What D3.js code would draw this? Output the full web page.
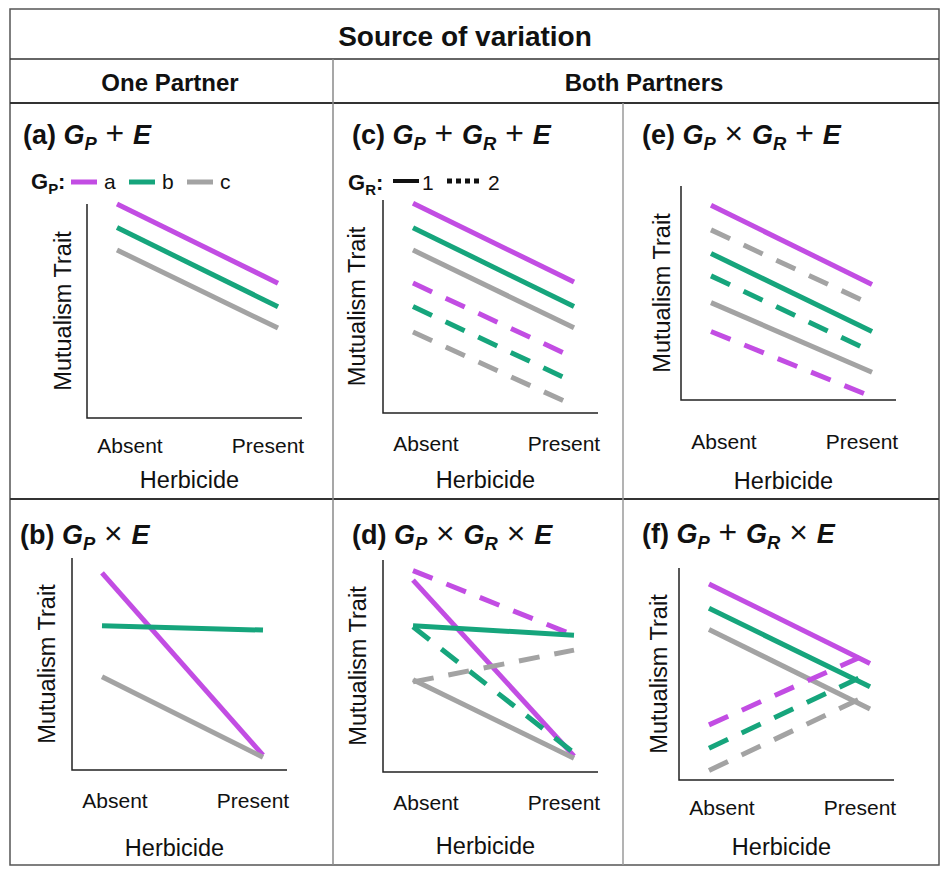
<!DOCTYPE html>
<html>
<head>
<meta charset="utf-8">
<script src="https://cdn.jsdelivr.net/npm/d3@7"></script>
<style>
  body { margin: 0; background: #fff; }
  svg text { font-family: "Liberation Sans", Arial, sans-serif; fill: #111; }
</style>
</head>
<body>
<svg id="chart" width="942" height="869"></svg>
<script>
// categories
var herbicide = ['Absent', 'Present'];
var genotypesP = ['a', 'b', 'c'];
var genotypesR = ['1', '2'];

// mutualism trait on a 0-10 scale: [absent, present]
var panelA = [
    {gp: 'a', gr: '1', v: [10.0, 6.3]},
    {gp: 'b', gr: '1', v: [8.9, 5.2]},
    {gp: 'c', gr: '1', v: [7.85, 4.2]}
];
var panelB = [
    {gp: 'a', gr: '1', v: [9.3, 0.7]},
    {gp: 'b', gr: '1', v: [6.8, 6.6]},
    {gp: 'c', gr: '1', v: [4.4, 0.6]}
];
var panelC = [
    {gp: 'a', gr: '1', v: [9.85, 6.15]},
    {gp: 'b', gr: '1', v: [8.7, 5.0]},
    {gp: 'c', gr: '1', v: [7.65, 4.0]},
    {gp: 'a', gr: '2', v: [6.1, 2.6]},
    {gp: 'b', gr: '2', v: [5.0, 1.45]},
    {gp: 'c', gr: '2', v: [3.8, 0.35]}
];
var panelD = [
    {gp: 'a', gr: '2', v: [9.5, 6.45]},
    {gp: 'a', gr: '1', v: [9.05, 0.75]},
    {gp: 'b', gr: '1', v: [6.9, 6.45]},
    {gp: 'b', gr: '2', v: [6.85, 0.9]},
    {gp: 'c', gr: '2', v: [4.25, 5.75]},
    {gp: 'c', gr: '1', v: [4.35, 0.65]}
];
var panelE = [
    {gp: 'a', gr: '1', v: [9.1, 5.4]},
    {gp: 'c', gr: '2', v: [7.95, 4.45]},
    {gp: 'b', gr: '1', v: [6.85, 3.2]},
    {gp: 'b', gr: '2', v: [5.8, 2.25]},
    {gp: 'c', gr: '1', v: [4.55, 1.3]},
    {gp: 'a', gr: '2', v: [3.2, 0.15]}
];
var panelF = [
    {gp: 'a', gr: '1', v: [9.25, 5.5]},
    {gp: 'b', gr: '1', v: [8.1, 4.4]},
    {gp: 'c', gr: '1', v: [7.1, 3.35]},
    {gp: 'a', gr: '2', v: [2.6, 6.0]},
    {gp: 'b', gr: '2', v: [1.5, 5.05]},
    {gp: 'c', gr: '2', v: [0.45, 4.05]}
];

var colorP = d3.scaleOrdinal().domain(genotypesP).range(['#C24DE3', '#16A57C', '#A3A3A3']);
var dashR = d3.scaleOrdinal().domain(genotypesR).range([null, '21,15']);

var svg = d3.select('#chart');

// rich text: B bold, I italic, S subscript, O operator, N plain
function richText(sel, parts, size) {
    var shift = 0;
    parts.forEach(function(p) {
        var ts = sel.append('tspan').text(p[0]);
        if (p[1].indexOf('B') >= 0) ts.attr('font-weight', 'bold');
        if (p[1].indexOf('I') >= 0) ts.attr('font-style', 'italic');
        if (p[1].indexOf('O') >= 0) ts.attr('font-size', size * 1.18);
        if (p[1].indexOf('S') >= 0) {
            ts.attr('font-size', size * 0.68).attr('dy', size * 0.22 - shift);
            shift = size * 0.22;
        } else if (shift) {
            ts.attr('dy', -shift);
            shift = 0;
        }
    });
}

// table grid
var grid = svg.append('g');
grid.append('rect').attr('x', 10).attr('y', 9).attr('width', 929).attr('height', 856)
    .attr('fill', 'none').attr('stroke', '#555').attr('stroke-width', 1.5);
[59, 103, 499].forEach(function(y) {
    grid.append('line').attr('x1', 10).attr('x2', 939).attr('y1', y).attr('y2', y)
        .attr('stroke', '#333').attr('stroke-width', y === 59 ? 1.5 : 2);
});
grid.append('line').attr('x1', 333).attr('x2', 333).attr('y1', 59).attr('y2', 865)
    .attr('stroke', '#8a8a8a').attr('stroke-width', 1.5);
grid.append('line').attr('x1', 623).attr('x2', 623).attr('y1', 103).attr('y2', 865)
    .attr('stroke', '#9a9a9a').attr('stroke-width', 1.5);

svg.append('text').attr('x', 465).attr('y', 46).attr('text-anchor', 'middle')
    .attr('font-size', 28).attr('font-weight', 'bold').text('Source of variation');
svg.append('text').attr('x', 170).attr('y', 91).attr('text-anchor', 'middle')
    .attr('font-size', 24).attr('font-weight', 'bold').text('One Partner');
svg.append('text').attr('x', 644).attr('y', 91).attr('text-anchor', 'middle')
    .attr('font-size', 24).attr('font-weight', 'bold').text('Both Partners');

var panels = [
    {data: panelA, ox: 87, oy: 418, h: 214, tx: 23, ty: 144, tickDy: 35, labDy: 70, yDx: -16,
     title: [['(a) ', 'B'], ['G', 'BI'], ['P', 'BIS'], [' + ', 'O'], ['E', 'BI']]},
    {data: panelB, ox: 72, oy: 770, h: 212, tx: 20, ty: 544, tickDy: 38, labDy: 86, yDx: -17,
     title: [['(b) ', 'B'], ['G', 'BI'], ['P', 'BIS'], [' \u00d7 ', 'O'], ['E', 'BI']]},
    {data: panelC, ox: 383, oy: 413, h: 213, tx: 352, ty: 144, tickDy: 38, labDy: 75, yDx: -18,
     title: [['(c) ', 'B'], ['G', 'BI'], ['P', 'BIS'], [' + ', 'O'], ['G', 'BI'], ['R', 'BIS'], [' + ', 'O'], ['E', 'BI']]},
    {data: panelD, ox: 383, oy: 772, h: 212, tx: 352, ty: 544, tickDy: 38, labDy: 82, yDx: -17,
     title: [['(d) ', 'B'], ['G', 'BI'], ['P', 'BIS'], [' \u00d7 ', 'O'], ['G', 'BI'], ['R', 'BIS'], [' \u00d7 ', 'O'], ['E', 'BI']]},
    {data: panelE, ox: 681, oy: 400, h: 214, tx: 642, ty: 144, tickDy: 49, labDy: 89, yDx: -11,
     title: [['(e) ', 'B'], ['G', 'BI'], ['P', 'BIS'], [' \u00d7 ', 'O'], ['G', 'BI'], ['R', 'BIS'], [' + ', 'O'], ['E', 'BI']]},
    {data: panelF, ox: 679, oy: 780, h: 212, tx: 642, ty: 543, tickDy: 35, labDy: 75, yDx: -12,
     title: [['(f) ', 'B'], ['G', 'BI'], ['P', 'BIS'], [' + ', 'O'], ['G', 'BI'], ['R', 'BIS'], [' \u00d7 ', 'O'], ['E', 'BI']]}
];

panels.forEach(function(p) {
    var g = svg.append('g');
    var x = d3.scalePoint().domain(herbicide).range([p.ox + 30, p.ox + 191]);
    var xl = d3.scalePoint().domain(herbicide).range([p.ox + 43, p.ox + 181]);
    var y = d3.scaleLinear().domain([0, 10]).range([p.oy, p.oy - p.h]);
    var w = 215;

    richText(g.append('text').attr('x', p.tx).attr('y', p.ty).attr('font-size', 27), p.title, 27);

    // axes (no ticks)
    g.append('path')
        .attr('d', 'M' + p.ox + ',' + y(10) + 'V' + p.oy + 'H' + (p.ox + w))
        .attr('fill', 'none').attr('stroke', '#222').attr('stroke-width', 1.5);

    var line = d3.line().x(function(d, i) { return x(herbicide[i]); }).y(function(d) { return y(d); });
    g.selectAll('path.series').data(p.data).enter().append('path')
        .attr('class', 'series')
        .attr('d', function(d) { return line(d.v); })
        .attr('fill', 'none')
        .attr('stroke', function(d) { return colorP(d.gp); })
        .attr('stroke-width', 5)
        .attr('stroke-dasharray', function(d) { return dashR(d.gr); });

    g.selectAll('text.tick').data(herbicide).enter().append('text')
        .attr('class', 'tick')
        .attr('x', function(d) { return xl(d); })
        .attr('y', p.oy + p.tickDy)
        .attr('text-anchor', 'middle').attr('font-size', 21)
        .text(function(d) { return d; });
    g.append('text').attr('x', p.ox + w / 2 - 5).attr('y', p.oy + p.labDy)
        .attr('text-anchor', 'middle').attr('font-size', 23.5).text('Herbicide');
    g.append('text')
        .attr('transform', 'translate(' + (p.ox + p.yDx) + ',' + (p.oy - p.h / 2) + ') rotate(-90)')
        .attr('text-anchor', 'middle').attr('font-size', 23.5).text('Mutualism Trait');
});

// legend G_P
var lgP = svg.append('g');
richText(lgP.append('text').attr('x', 31).attr('y', 189).attr('font-size', 22), [['G', 'B'], ['P', 'BS'], [':', 'B']], 22);
genotypesP.forEach(function(k, i) {
    var x0 = 71 + i * 58;
    lgP.append('line').attr('x1', x0).attr('x2', x0 + 26).attr('y1', 182).attr('y2', 182)
        .attr('stroke', colorP(k)).attr('stroke-width', 5);
    lgP.append('text').attr('x', x0 + 33).attr('y', 189).attr('font-size', 21).text(k);
});

// legend G_R
var lgR = svg.append('g');
richText(lgR.append('text').attr('x', 348).attr('y', 190).attr('font-size', 22), [['G', 'B'], ['R', 'BS'], [':', 'B']], 22);
genotypesR.forEach(function(k, i) {
    var x0 = 393 + i * 54;
    lgR.append('line').attr('x1', x0).attr('x2', x0 + (i ? 32 : 26)).attr('y1', 181).attr('y2', 181)
        .attr('stroke', '#111').attr('stroke-width', i ? 5 : 4)
        .attr('stroke-dasharray', i ? '5,4' : null);
    lgR.append('text').attr('x', x0 + (i ? 41 : 29)).attr('y', 190).attr('font-size', 21).text(k);
});
</script>
</body>
</html>
